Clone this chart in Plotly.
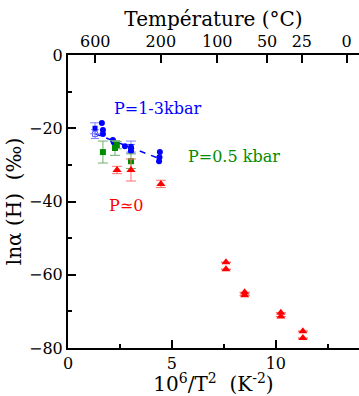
import plotly.graph_objects as go

# Data (x = 10^6/T^2 in K^-2, y = ln alpha (H) in permil)
blue_circ_x = [1.63, 1.68, 1.68, 2.16, 2.20, 2.74, 3.03, 3.03, 4.42, 4.40, 4.38]
blue_circ_y = [-18.6, -20.5, -21.6, -23.2, -23.8, -24.9, -25.4, -26.2, -26.5, -27.9, -29.0]
blue_sq_x = [1.30, 3.03]
blue_sq_y = [-20.0, -25.0]
blue_sq_err = [1.5, 1.5]
blue_open_x = [1.30, 3.03]
blue_open_y = [-21.6, -25.6]
blue_open_err = [1.2, 1.2]
blue_fit_x = [1.3, 4.4]
blue_fit_y = [-21.5, -28.3]

green_x = [1.68, 2.26, 2.35, 3.03]
green_y = [-26.5, -25.4, -24.6, -29.0]
green_err = [3.0, 2.0, 1.0, 2.0]

red_x = [2.36, 3.03, 4.47, 7.6, 7.6, 8.5, 8.5, 10.24, 10.24, 11.3, 11.3]
red_y = [-31.4, -31.4, -35.2, -56.6, -58.5, -64.8, -65.6, -70.4, -71.4, -75.4, -77.3]
red_err = [1.0, 3.0, 1.0, 0, 0, 0, 0, 0, 0, 0, 0]

top_tick_celsius = [600, 200, 100, 50, 25, 0]
top_tick_vals = [1e6 / (c + 273.15) ** 2 for c in top_tick_celsius]
top_tick_text = [str(c) for c in top_tick_celsius]

FONT = "DejaVu Serif"
BLUE = "#0000ff"
GREEN = "#008c00"
RED = "#ff0000"

fig = go.Figure()

fig.add_trace(go.Scatter(x=blue_fit_x, y=blue_fit_y, mode="lines",
                         line=dict(color=BLUE, dash="6px,6px", width=1.5), showlegend=False))
fig.add_trace(go.Scatter(x=blue_open_x, y=blue_open_y, mode="markers",
                         marker=dict(symbol="square-open", size=5, color="#6060ff", line=dict(width=1)),
                         error_y=dict(type="data", array=blue_open_err, color="#8080ff", thickness=1, width=4),
                         showlegend=False))
fig.add_trace(go.Scatter(x=blue_sq_x, y=blue_sq_y, mode="markers",
                         marker=dict(symbol="square", size=5, color=BLUE),
                         error_y=dict(type="data", array=blue_sq_err, color="#8080ff", thickness=1, width=5),
                         showlegend=False))
fig.add_trace(go.Scatter(x=blue_circ_x, y=blue_circ_y, mode="markers",
                         marker=dict(symbol="circle", size=6, color=BLUE),
                         showlegend=False))
fig.add_trace(go.Scatter(x=green_x, y=green_y, mode="markers",
                         marker=dict(symbol="square", size=6, color=GREEN),
                         error_y=dict(type="data", array=green_err, color="#70b070", thickness=1, width=5),
                         showlegend=False))
fig.add_trace(go.Scatter(x=red_x, y=red_y, mode="markers",
                         marker=dict(symbol="triangle-up", size=8, color=RED),
                         error_y=dict(type="data", array=red_err, color="#ff7070", thickness=1, width=5),
                         showlegend=False))
# dummy trace on top axis
fig.add_trace(go.Scatter(x=[None], y=[None], xaxis="x2", showlegend=False))

fig.add_annotation(x=4.3, y=-14.5, text="P=1-3kbar", showarrow=False, xanchor="center",
                   font=dict(family=FONT, size=16, color=BLUE))
fig.add_annotation(x=8.0, y=-27.6, text="P=0.5 kbar", showarrow=False, xanchor="center",
                   font=dict(family=FONT, size=16, color=GREEN))
fig.add_annotation(x=2.8, y=-41.0, text="P≃0", showarrow=False, xanchor="center",
                   font=dict(family=FONT, size=16, color=RED))

axis_common = dict(showline=True, linecolor="black", linewidth=2, showgrid=False, zeroline=False,
                   ticks="inside", tickcolor="black", tickwidth=1.5,
                   tickfont=dict(family=FONT, size=16, color="black"))

fig.update_layout(
    width=359, height=396,
    margin=dict(l=68, r=0, t=55, b=48),
    paper_bgcolor="white", plot_bgcolor="white",
    font=dict(family=FONT),
    xaxis=dict(range=[0, 14], tickvals=[0, 5, 10], ticklen=8,
               minor=dict(tickvals=[2.5, 7.5, 12.5], ticks="inside", ticklen=4, tickcolor="black", tickwidth=1.5),
               title=dict(text="10<sup>6</sup>/T<sup>2</sup>  (K<sup>-2</sup>)", font=dict(family=FONT, size=20, color="black"), standoff=0),
               **axis_common),
    xaxis2=dict(range=[0, 14], overlaying="x", side="top", tickvals=top_tick_vals, ticktext=top_tick_text,
                ticklen=8,
                title=dict(text="Température (°C)", font=dict(family=FONT, size=20, color="black"), standoff=0),
                **axis_common),
    yaxis=dict(range=[-80, 0], tickvals=[0, -20, -40, -60, -80], ticklen=8,
               minor=dict(tickvals=[-10, -30, -50, -70], ticks="inside", ticklen=4, tickcolor="black", tickwidth=1.5),
               title=dict(text="lnα (H)  (‰)", font=dict(family=FONT, size=20, color="black"), standoff=2),
               **axis_common),
)

fig.write_html("out.html")
